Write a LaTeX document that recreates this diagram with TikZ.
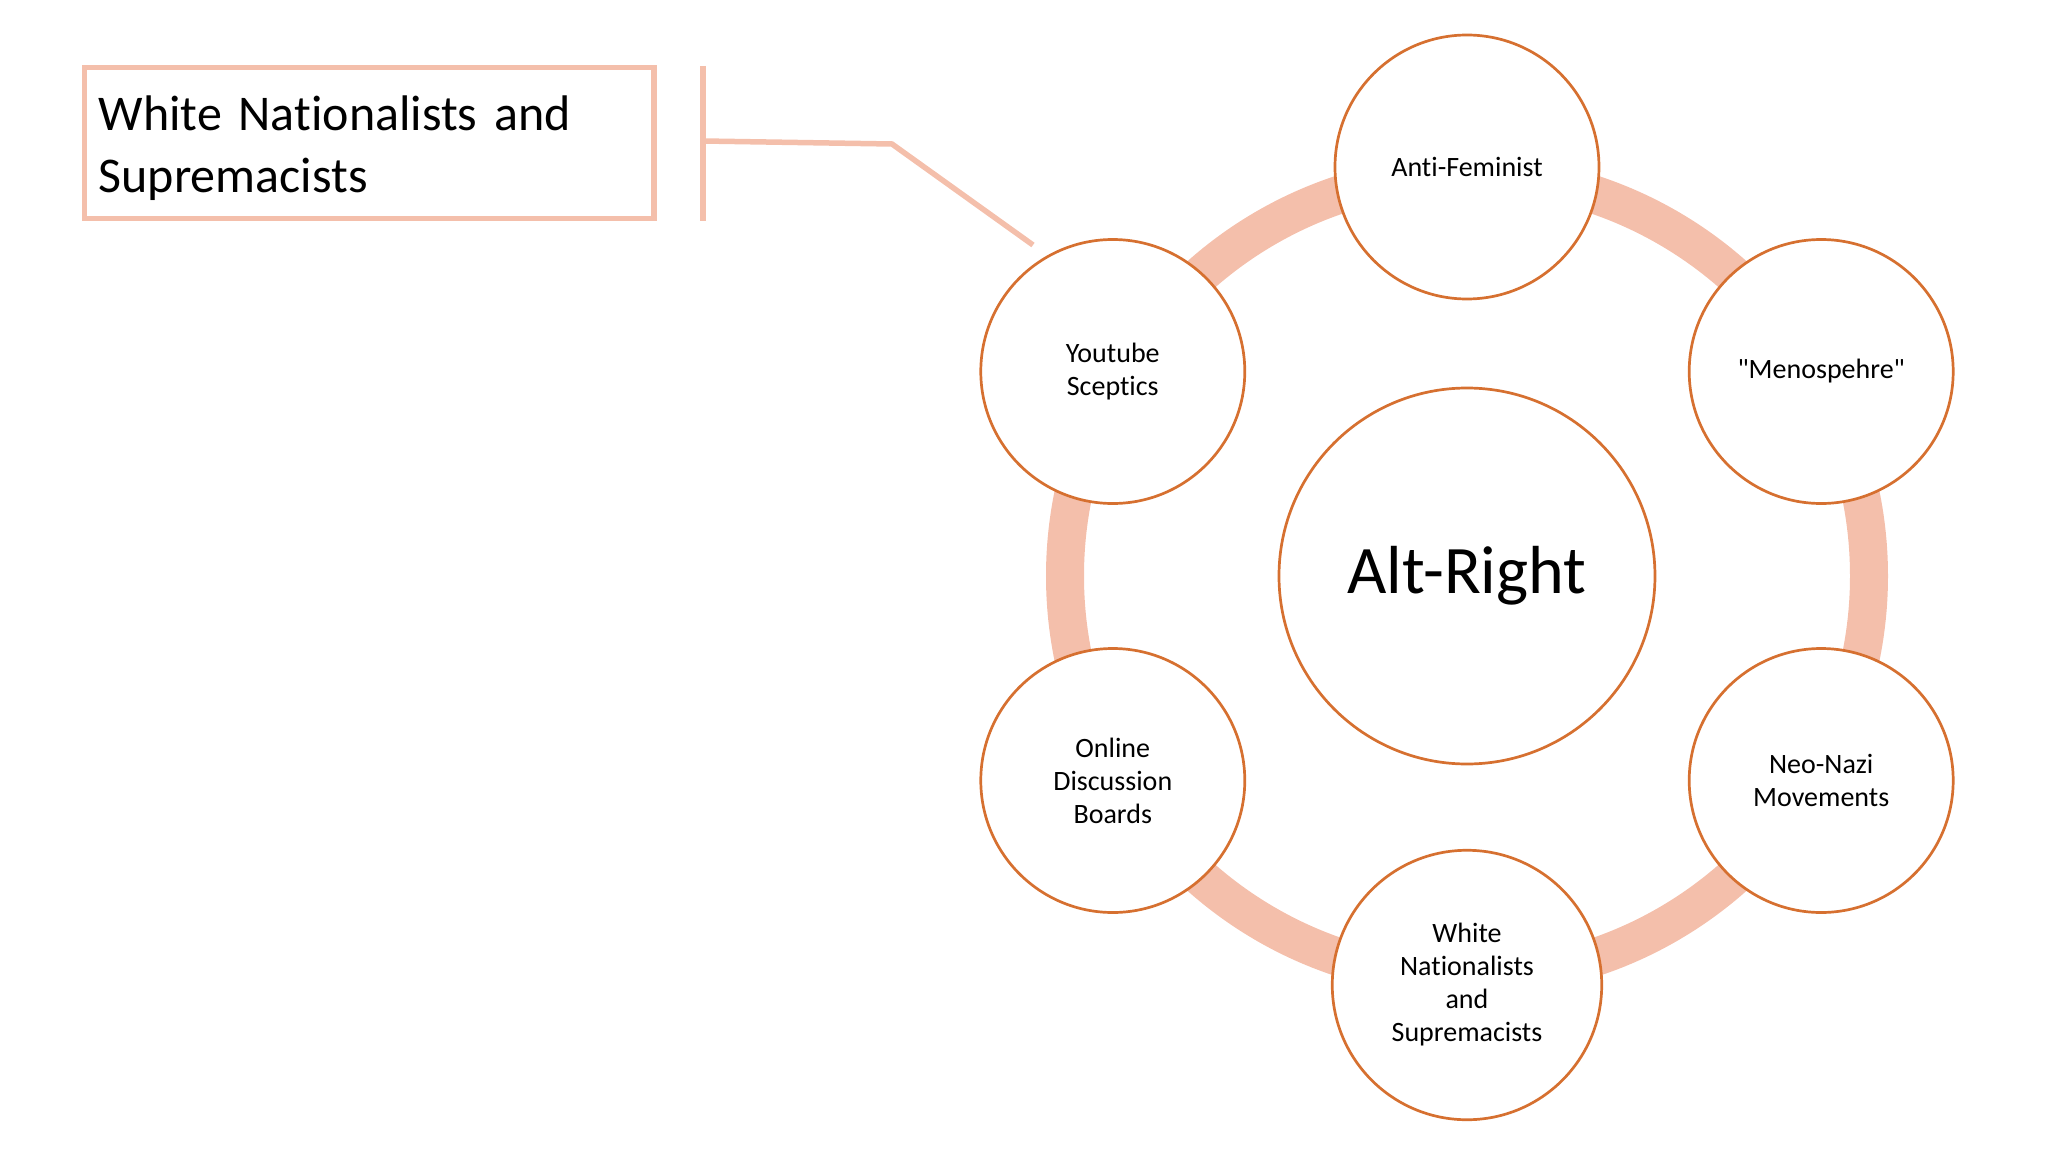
\documentclass[tikz,border=0pt]{standalone}
\usepackage{fontspec}
\setmainfont{Carlito}[Ligatures=NoCommon]
\usetikzlibrary{positioning}
\definecolor{ringpink}{RGB}{244,191,171}
\definecolor{rimorange}{RGB}{214,112,48}

\begin{document}
\begin{tikzpicture}[
        x=0.5pt, y=0.5pt,
        hub/.style={circle, minimum size=188pt, inner sep=0pt, draw=rimorange, line width=1.35pt, fill=white, font=\fontsize{34}{40}\selectfont},
        spoke/.style={circle, minimum size=132pt, inner sep=0pt, text width=120pt, align=center, draw=rimorange, line width=1.35pt, fill=white, font=\fontsize{14}{16.5}\selectfont},
        calloutbox/.style={rectangle, draw=ringpink, line width=2.75pt, minimum width=284.75pt, minimum height=75.25pt, text width=270.75pt, text height=22.5pt, inner xsep=7pt, align=left, font=\fontsize{25}{31}\selectfont},
        link/.style={draw=ringpink, line width=2.75pt}
        ]

        \useasboundingbox (-1467,-576) rectangle (581,576);

        \node (altright)   [hub]                 at (0,0)       {Alt-Right};
        \draw [ringpink, line width=19pt] (altright.center) circle [radius=402];

        \node (antifem)    [spoke] at (90:409)   {Anti-Feminist};
        \node (menosphere) [spoke] at (30:409)   {\textquotedbl Menospehre\textquotedbl};
        \node (neonazi)    [spoke] at (-30:409)  {Neo-Nazi\\Movements};
        \node (whitenat)   [spoke] at (-90:409)  {White\\Nationalists\\and\\Supremacists};
        \node (boards)     [spoke] at (-150:409) {Online\\Discussion\\Boards};
        \node (youtube)    [spoke] at (150:409)  {Youtube\\Sceptics};

        \node (callout) [calloutbox] at (-1097.5,433) {White Nationalists and\\Supremacists};

        \coordinate (bartop) at (-764,510);
        \coordinate (barbot) at (-764,355);
        \coordinate (barmid) at (-764,435);
        \coordinate (elbow)  at (-575,432);
        \coordinate (tip)    at (-434,331);

        \draw [link] (bartop) -- (barbot);
        \draw [link] (barmid) -- (elbow) -- (tip);

    \end{tikzpicture}
\end{document}
